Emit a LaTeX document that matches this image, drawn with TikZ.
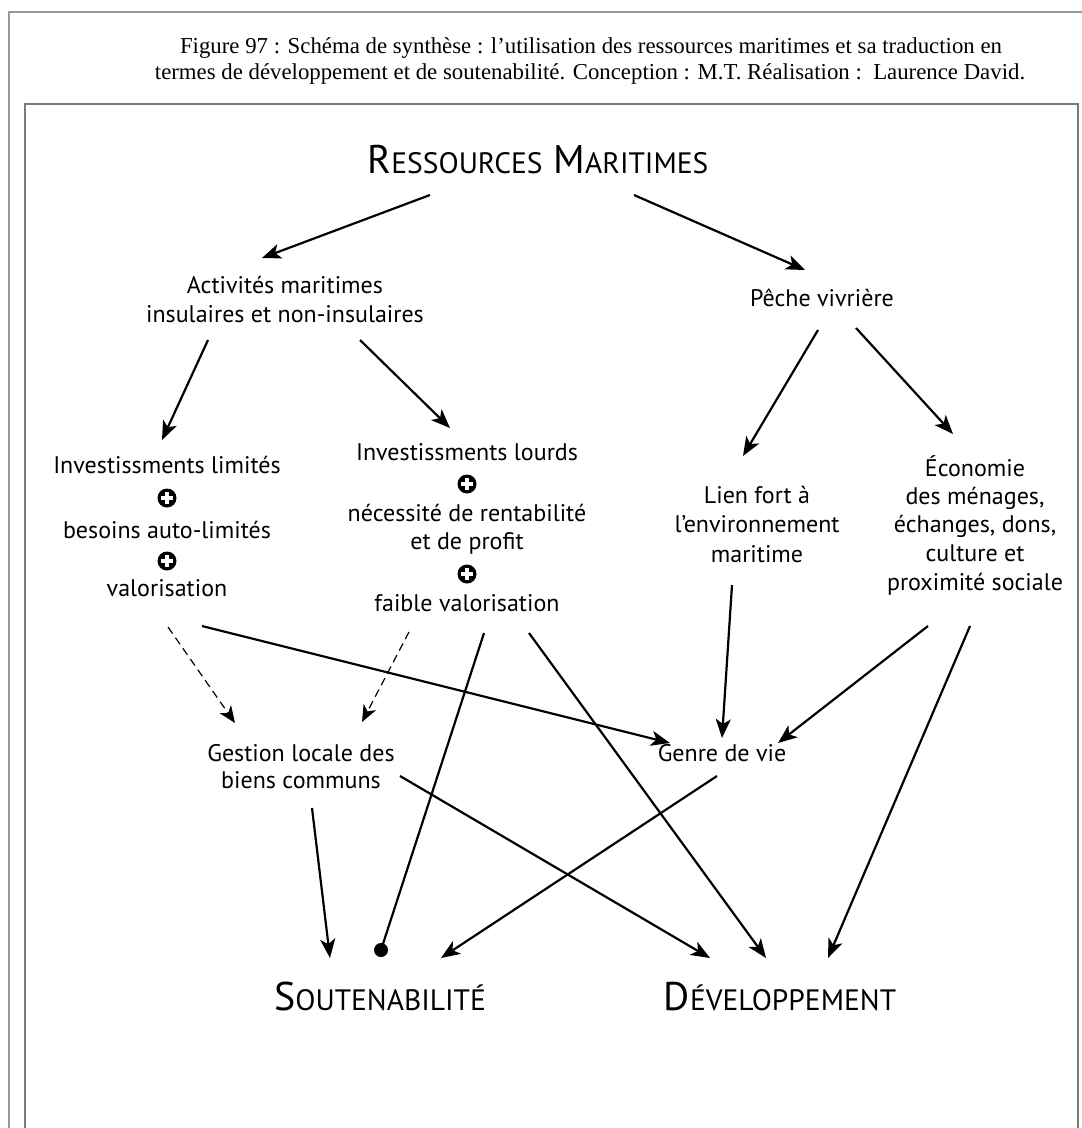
\documentclass[tikz,border=0pt]{standalone}
\usepackage{fontspec}
\setmainfont{PT Sans}
\newfontfamily\capfont{Liberation Serif}
\usetikzlibrary{arrows.meta}
\newcommand{\bigsc}[2]{{\fontsize{40}{40}\selectfont #1}{\fontsize{29.5}{40}\selectfont #2}}
\newcommand{\headsp}{\hspace{11pt}}
\begin{document}
\begin{tikzpicture}[x=1pt,y=-1pt,
 txt/.style={font=\fontsize{24}{28}\selectfont, inner sep=0pt, anchor=base},
 capt/.style={font=\capfont\fontsize{22.8}{26}\selectfont, inner sep=0pt, anchor=base},
 head/.style={inner sep=0pt, anchor=base},
 plusnode/.style={circle, fill=black, minimum size=19pt, inner sep=0pt,
   path picture={\draw[white,line width=3.6pt] ([xshift=-5.6pt]path picture bounding box.center) -- ([xshift=5.6pt]path picture bounding box.center);
                 \draw[white,line width=3.6pt] ([yshift=-5.6pt]path picture bounding box.center) -- ([yshift=5.6pt]path picture bounding box.center);}},
 arr/.style={line width=2.2pt, -{Stealth[length=19pt,width=15pt,inset=5pt]}},
 dsh/.style={line width=1.2pt, dash pattern=on 8pt off 5pt, -{Stealth[length=17pt,width=14pt,inset=5pt]}},
 dotnode/.style={circle, fill=black, minimum size=14pt, inner sep=0pt},
]
\fill[white] (0,0) rectangle (1082,1128);
\useasboundingbox (0,0) rectangle (1082,1128);
% frames
\draw[black!40, line width=1.3pt] (9,1128) -- (9,12) -- (1082,12);
\draw[black!52, line width=2.4pt] (25,1128) -- (25,104) -- (1078,104) -- (1078,1128);
% caption
\node[capt] (cap1) at (591,53) {Figure 97 : Schéma de synthèse : l’utilisation des ressources maritimes et sa traduction en};
\node[capt] (cap2) at (590,79) {termes de développement et de soutenabilité. Conception : M.T. Réalisation :\ \ Laurence David.};
% title
\node[head] (title) at (538,173) {\bigsc{R}{ESSOURCES}\headsp\bigsc{M}{ARITIMES}};
% level 1
\node[txt] (act1) at (285,293) {Activités maritimes};
\node[txt] (act2) at (285,322) {insulaires et non-insulaires};
\node[txt] (peche) at (822,306) {Pêche vivrière};
% left column
\node[txt] (lim1) at (167,473) {Investissments limités};
\node[plusnode] (lp1) at (167,498) {};
\node[txt] (lim2) at (167,538) {besoins auto-limités};
\node[plusnode] (lp2) at (167,561) {};
\node[txt] (lim3) at (167,596) {valorisation};
% middle column
\node[txt] (lou1) at (467,460) {Investissments lourds};
\node[plusnode] (mp1) at (467,484) {};
\node[txt] (lou2) at (467,521) {nécessité de rentabilité};
\node[txt] (lou3) at (467,549) {et de profit};
\node[plusnode] (mp2) at (467,574) {};
\node[txt] (lou4) at (467,611) {faible valorisation};
% Lien
\node[txt] (lien1) at (757,503) {Lien fort à};
\node[txt] (lien2) at (757,532) {l’environnement};
\node[txt] (lien3) at (757,562) {maritime};
% Economie
\node[txt] (eco1) at (975,476) {Économie};
\node[txt] (eco2) at (975,504) {des ménages,};
\node[txt] (eco3) at (975,532) {échanges, dons,};
\node[txt] (eco4) at (975,561) {culture et};
\node[txt] (eco5) at (975,590) {proximité sociale};
% level 3
\node[txt] (ges1) at (301,761) {Gestion locale des};
\node[txt] (ges2) at (301,788) {biens communs};
\node[txt] (genre) at (722,761) {Genre de vie};
% bottom
\node[head] (sout) at (380,1010) {\bigsc{S}{OUTENABILITÉ}};
\node[head] (dev) at (780,1010) {\bigsc{D}{ÉVELOPPEMENT}};
\node[dotnode] (dot) at (381,950) {};
% connector coordinates
\coordinate (t1) at (430,195); \coordinate (t1e) at (262,258);
\coordinate (t2) at (634,195); \coordinate (t2e) at (805,270);
\coordinate (ac1) at (208,340); \coordinate (ac1e) at (162,440);
\coordinate (ac2) at (360,340); \coordinate (ac2e) at (450,428);
\coordinate (pe1) at (818,330); \coordinate (pe1e) at (743,456);
\coordinate (pe2) at (856,328); \coordinate (pe2e) at (953,434);
\coordinate (va) at (202,626); \coordinate (gvl) at (670,743);
\coordinate (li) at (732,585); \coordinate (gvc) at (722,738);
\coordinate (ec1) at (928,626); \coordinate (gvr) at (778,743);
\coordinate (ec2) at (970,626); \coordinate (dv3) at (828,958);
\coordinate (fv1) at (484,633);
\coordinate (fv2) at (529,633); \coordinate (dv2) at (766,958);
\coordinate (ds1) at (168,627); \coordinate (gs1) at (235,723);
\coordinate (ds2) at (409,632); \coordinate (gs2) at (362,722);
\coordinate (ge1) at (312,808); \coordinate (so1) at (330,958);
\coordinate (ge2) at (400,776); \coordinate (dv1) at (710,958);
\coordinate (gv) at (717,776); \coordinate (so3) at (441,958);
% connectors
\draw[arr] (t1) -- (t1e);
\draw[arr] (t2) -- (t2e);
\draw[arr] (ac1) -- (ac1e);
\draw[arr] (ac2) -- (ac2e);
\draw[arr] (pe1) -- (pe1e);
\draw[arr] (pe2) -- (pe2e);
\draw[arr] (va) -- (gvl);
\draw[arr] (li) -- (gvc);
\draw[arr] (ec1) -- (gvr);
\draw[arr] (ec2) -- (dv3);
\draw[line width=2.2pt] (fv1) -- (dot.center);
\draw[arr] (fv2) -- (dv2);
\draw[dsh] (ds1) -- (gs1);
\draw[dsh] (ds2) -- (gs2);
\draw[arr] (ge1) -- (so1);
\draw[arr] (ge2) -- (dv1);
\draw[arr] (gv) -- (so3);
\end{tikzpicture}
\end{document}
